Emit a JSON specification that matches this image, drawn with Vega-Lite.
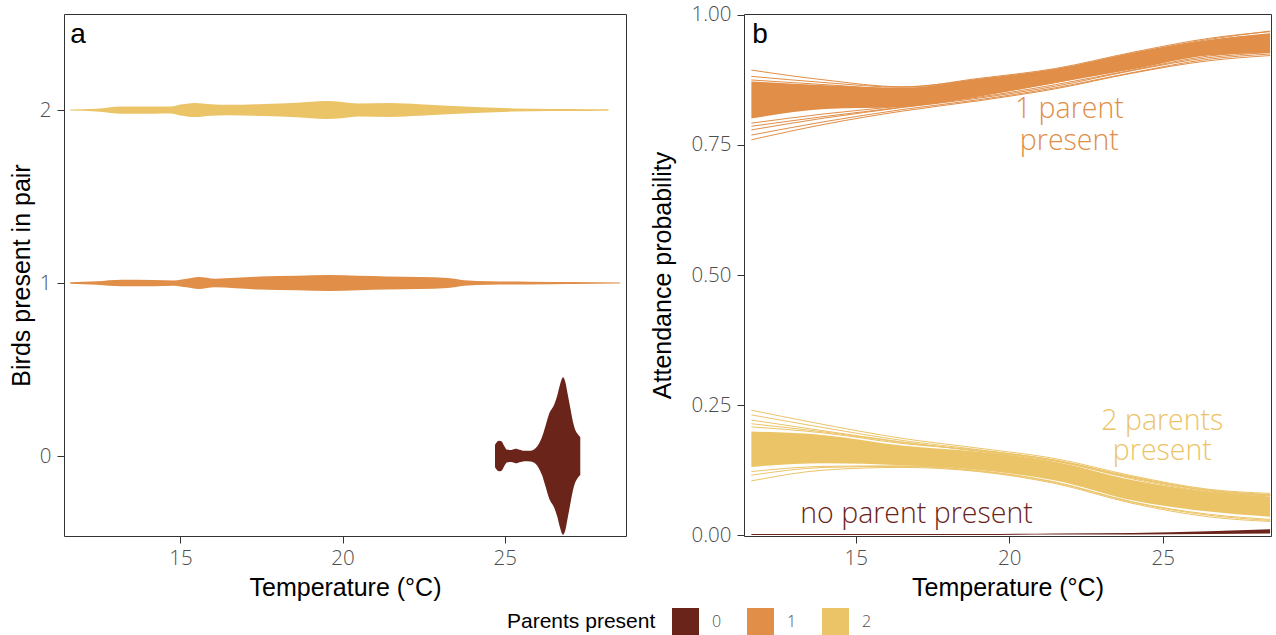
{
  "$schema": "https://vega.github.io/schema/vega-lite/v6.json",
  "padding": {"left": 8, "top": 4, "right": 0, "bottom": 0},
  "bounds": "flush",
  "spacing": 118,
  "background": "white",
  "config": {
    "font": "Liberation Sans",
    "view": {"stroke": "#333333", "strokeWidth": 1},
    "axis": {
      "domain": false, "grid": false, "tickColor": "#333333", "tickSize": 7, "tickWidth": 1,
      "labelFont": "Open Sans", "labelFontWeight": 300, "labelFontSize": 20.5, "labelColor": "#4d4d4d", "labelPadding": 6,
      "titleFont": "Liberation Sans", "titleFontSize": 25, "titleFontWeight": "normal", "titleColor": "#000000", "titlePadding": 12
    },
    "axisX": {"titlePadding": 7, "labelPadding": 5},
    "legend": {
      "titleFont": "Liberation Sans", "titleFontSize": 21, "titleFontWeight": "normal", "titleColor": "#000000",
      "labelFont": "Open Sans", "labelFontWeight": 300, "labelFontSize": 16, "labelColor": "#4d4d4d",
      "symbolType": "square", "symbolSize": 729, "symbolStrokeWidth": 0, "symbolOpacity": 1,
      "labelOffset": 13, "columnPadding": 25, "titlePadding": 16, "padding": 0
    }
  },
  "resolve": {"scale": {"color": "shared"}, "legend": {"color": "shared"}},
  "datasets": {
    "violins": [
      {"pp": "2", "temp": 11.60, "val": 1.997, "val2": 2.003},
      {"pp": "2", "temp": 12.42, "val": 1.992, "val2": 2.008},
      {"pp": "2", "temp": 13.17, "val": 1.979, "val2": 2.021},
      {"pp": "2", "temp": 14.18, "val": 1.979, "val2": 2.021},
      {"pp": "2", "temp": 14.69, "val": 1.980, "val2": 2.020},
      {"pp": "2", "temp": 15.06, "val": 1.967, "val2": 2.033},
      {"pp": "2", "temp": 15.44, "val": 1.959, "val2": 2.041},
      {"pp": "2", "temp": 15.95, "val": 1.967, "val2": 2.033},
      {"pp": "2", "temp": 16.45, "val": 1.970, "val2": 2.030},
      {"pp": "2", "temp": 17.58, "val": 1.965, "val2": 2.035},
      {"pp": "2", "temp": 18.59, "val": 1.958, "val2": 2.042},
      {"pp": "2", "temp": 19.47, "val": 1.948, "val2": 2.052},
      {"pp": "2", "temp": 19.98, "val": 1.953, "val2": 2.047},
      {"pp": "2", "temp": 20.48, "val": 1.962, "val2": 2.038},
      {"pp": "2", "temp": 21.49, "val": 1.960, "val2": 2.040},
      {"pp": "2", "temp": 22.37, "val": 1.967, "val2": 2.033},
      {"pp": "2", "temp": 23.25, "val": 1.975, "val2": 2.025},
      {"pp": "2", "temp": 24.26, "val": 1.984, "val2": 2.016},
      {"pp": "2", "temp": 25.27, "val": 1.991, "val2": 2.009},
      {"pp": "2", "temp": 26.40, "val": 1.994, "val2": 2.006},
      {"pp": "2", "temp": 27.54, "val": 1.995, "val2": 2.005},
      {"pp": "2", "temp": 28.20, "val": 1.996, "val2": 2.004},
      {"pp": "1", "temp": 11.60, "val": 0.996, "val2": 1.004},
      {"pp": "1", "temp": 12.42, "val": 0.990, "val2": 1.010},
      {"pp": "1", "temp": 13.17, "val": 0.981, "val2": 1.019},
      {"pp": "1", "temp": 14.18, "val": 0.982, "val2": 1.018},
      {"pp": "1", "temp": 14.81, "val": 0.985, "val2": 1.015},
      {"pp": "1", "temp": 15.19, "val": 0.975, "val2": 1.025},
      {"pp": "1", "temp": 15.56, "val": 0.965, "val2": 1.035},
      {"pp": "1", "temp": 16.07, "val": 0.975, "val2": 1.025},
      {"pp": "1", "temp": 16.70, "val": 0.970, "val2": 1.030},
      {"pp": "1", "temp": 17.45, "val": 0.962, "val2": 1.038},
      {"pp": "1", "temp": 18.59, "val": 0.958, "val2": 1.042},
      {"pp": "1", "temp": 19.60, "val": 0.954, "val2": 1.046},
      {"pp": "1", "temp": 20.48, "val": 0.958, "val2": 1.042},
      {"pp": "1", "temp": 21.36, "val": 0.962, "val2": 1.038},
      {"pp": "1", "temp": 22.37, "val": 0.965, "val2": 1.035},
      {"pp": "1", "temp": 23.25, "val": 0.971, "val2": 1.029},
      {"pp": "1", "temp": 23.75, "val": 0.984, "val2": 1.016},
      {"pp": "1", "temp": 24.51, "val": 0.990, "val2": 1.010},
      {"pp": "1", "temp": 25.77, "val": 0.992, "val2": 1.008},
      {"pp": "1", "temp": 27.03, "val": 0.994, "val2": 1.006},
      {"pp": "1", "temp": 28.56, "val": 0.997, "val2": 1.003},
      {"pp": "0", "temp": 24.70, "val": -0.065, "val2": 0.065},
      {"pp": "0", "temp": 24.75, "val": -0.078, "val2": 0.078},
      {"pp": "0", "temp": 24.82, "val": -0.088, "val2": 0.088},
      {"pp": "0", "temp": 24.90, "val": -0.085, "val2": 0.085},
      {"pp": "0", "temp": 24.98, "val": -0.060, "val2": 0.060},
      {"pp": "0", "temp": 25.08, "val": -0.036, "val2": 0.036},
      {"pp": "0", "temp": 25.20, "val": -0.035, "val2": 0.035},
      {"pp": "0", "temp": 25.34, "val": -0.042, "val2": 0.042},
      {"pp": "0", "temp": 25.46, "val": -0.036, "val2": 0.036},
      {"pp": "0", "temp": 25.60, "val": -0.030, "val2": 0.030},
      {"pp": "0", "temp": 25.80, "val": -0.031, "val2": 0.031},
      {"pp": "0", "temp": 25.95, "val": -0.045, "val2": 0.045},
      {"pp": "0", "temp": 26.05, "val": -0.070, "val2": 0.070},
      {"pp": "0", "temp": 26.15, "val": -0.110, "val2": 0.110},
      {"pp": "0", "temp": 26.25, "val": -0.170, "val2": 0.170},
      {"pp": "0", "temp": 26.37, "val": -0.245, "val2": 0.245},
      {"pp": "0", "temp": 26.53, "val": -0.300, "val2": 0.300},
      {"pp": "0", "temp": 26.62, "val": -0.350, "val2": 0.350},
      {"pp": "0", "temp": 26.70, "val": -0.410, "val2": 0.410},
      {"pp": "0", "temp": 26.80, "val": -0.455, "val2": 0.455},
      {"pp": "0", "temp": 26.88, "val": -0.420, "val2": 0.420},
      {"pp": "0", "temp": 26.94, "val": -0.360, "val2": 0.360},
      {"pp": "0", "temp": 27.02, "val": -0.280, "val2": 0.280},
      {"pp": "0", "temp": 27.09, "val": -0.210, "val2": 0.210},
      {"pp": "0", "temp": 27.16, "val": -0.160, "val2": 0.160},
      {"pp": "0", "temp": 27.24, "val": -0.130, "val2": 0.130},
      {"pp": "0", "temp": 27.33, "val": -0.110, "val2": 0.110}
    ],
    "bands": [
      {"pp": "0", "temp": 11.6, "val": 0.000, "val2": 0.002},
      {"pp": "0", "temp": 14.0, "val": 0.000, "val2": 0.002},
      {"pp": "0", "temp": 16.5, "val": 0.000, "val2": 0.002},
      {"pp": "0", "temp": 19.0, "val": 0.000, "val2": 0.002},
      {"pp": "0", "temp": 21.5, "val": 0.001, "val2": 0.003},
      {"pp": "0", "temp": 24.0, "val": 0.001, "val2": 0.004},
      {"pp": "0", "temp": 26.5, "val": 0.002, "val2": 0.007},
      {"pp": "0", "temp": 28.5, "val": 0.003, "val2": 0.011},
      {"pp": "1", "temp": 11.6, "val": 0.801, "val2": 0.872},
      {"pp": "1", "temp": 14.0, "val": 0.819, "val2": 0.865},
      {"pp": "1", "temp": 16.5, "val": 0.823, "val2": 0.860},
      {"pp": "1", "temp": 19.0, "val": 0.843, "val2": 0.877},
      {"pp": "1", "temp": 21.5, "val": 0.869, "val2": 0.896},
      {"pp": "1", "temp": 24.0, "val": 0.895, "val2": 0.927},
      {"pp": "1", "temp": 26.5, "val": 0.922, "val2": 0.952},
      {"pp": "1", "temp": 28.5, "val": 0.927, "val2": 0.965},
      {"pp": "2", "temp": 11.6, "val": 0.131, "val2": 0.199},
      {"pp": "2", "temp": 14.0, "val": 0.138, "val2": 0.192},
      {"pp": "2", "temp": 16.5, "val": 0.134, "val2": 0.172},
      {"pp": "2", "temp": 19.0, "val": 0.125, "val2": 0.160},
      {"pp": "2", "temp": 21.5, "val": 0.105, "val2": 0.141},
      {"pp": "2", "temp": 24.0, "val": 0.067, "val2": 0.106},
      {"pp": "2", "temp": 26.5, "val": 0.045, "val2": 0.083},
      {"pp": "2", "temp": 28.5, "val": 0.035, "val2": 0.074}
    ],
    "draws": [
      {"pp": "1", "draw": "o1", "temp": 11.6, "val": 0.894}, {"pp": "1", "draw": "o1", "temp": 14.0, "val": 0.875}, {"pp": "1", "draw": "o1", "temp": 16.5, "val": 0.862}, {"pp": "1", "draw": "o1", "temp": 19.0, "val": 0.876}, {"pp": "1", "draw": "o1", "temp": 21.5, "val": 0.895}, {"pp": "1", "draw": "o1", "temp": 24.0, "val": 0.926}, {"pp": "1", "draw": "o1", "temp": 26.5, "val": 0.953}, {"pp": "1", "draw": "o1", "temp": 28.5, "val": 0.969},
      {"pp": "1", "draw": "o2", "temp": 11.6, "val": 0.882}, {"pp": "1", "draw": "o2", "temp": 14.0, "val": 0.870}, {"pp": "1", "draw": "o2", "temp": 16.5, "val": 0.861}, {"pp": "1", "draw": "o2", "temp": 19.0, "val": 0.878}, {"pp": "1", "draw": "o2", "temp": 21.5, "val": 0.897}, {"pp": "1", "draw": "o2", "temp": 24.0, "val": 0.928}, {"pp": "1", "draw": "o2", "temp": 26.5, "val": 0.955}, {"pp": "1", "draw": "o2", "temp": 28.5, "val": 0.968},
      {"pp": "1", "draw": "o3", "temp": 11.6, "val": 0.760}, {"pp": "1", "draw": "o3", "temp": 14.0, "val": 0.790}, {"pp": "1", "draw": "o3", "temp": 16.5, "val": 0.815}, {"pp": "1", "draw": "o3", "temp": 19.0, "val": 0.835}, {"pp": "1", "draw": "o3", "temp": 21.5, "val": 0.858}, {"pp": "1", "draw": "o3", "temp": 24.0, "val": 0.888}, {"pp": "1", "draw": "o3", "temp": 26.5, "val": 0.912}, {"pp": "1", "draw": "o3", "temp": 28.5, "val": 0.922},
      {"pp": "1", "draw": "o4", "temp": 11.6, "val": 0.769}, {"pp": "1", "draw": "o4", "temp": 14.0, "val": 0.795}, {"pp": "1", "draw": "o4", "temp": 16.5, "val": 0.818}, {"pp": "1", "draw": "o4", "temp": 19.0, "val": 0.837}, {"pp": "1", "draw": "o4", "temp": 21.5, "val": 0.860}, {"pp": "1", "draw": "o4", "temp": 24.0, "val": 0.889}, {"pp": "1", "draw": "o4", "temp": 26.5, "val": 0.915}, {"pp": "1", "draw": "o4", "temp": 28.5, "val": 0.925},
      {"pp": "1", "draw": "o5", "temp": 11.6, "val": 0.779}, {"pp": "1", "draw": "o5", "temp": 14.0, "val": 0.802}, {"pp": "1", "draw": "o5", "temp": 16.5, "val": 0.822}, {"pp": "1", "draw": "o5", "temp": 19.0, "val": 0.840}, {"pp": "1", "draw": "o5", "temp": 21.5, "val": 0.863}, {"pp": "1", "draw": "o5", "temp": 24.0, "val": 0.893}, {"pp": "1", "draw": "o5", "temp": 26.5, "val": 0.918}, {"pp": "1", "draw": "o5", "temp": 28.5, "val": 0.928},
      {"pp": "1", "draw": "o6", "temp": 11.6, "val": 0.792}, {"pp": "1", "draw": "o6", "temp": 14.0, "val": 0.810}, {"pp": "1", "draw": "o6", "temp": 16.5, "val": 0.825}, {"pp": "1", "draw": "o6", "temp": 19.0, "val": 0.842}, {"pp": "1", "draw": "o6", "temp": 21.5, "val": 0.866}, {"pp": "1", "draw": "o6", "temp": 24.0, "val": 0.894}, {"pp": "1", "draw": "o6", "temp": 26.5, "val": 0.921}, {"pp": "1", "draw": "o6", "temp": 28.5, "val": 0.930},
      {"pp": "1", "draw": "o7", "temp": 11.6, "val": 0.786}, {"pp": "1", "draw": "o7", "temp": 14.0, "val": 0.805}, {"pp": "1", "draw": "o7", "temp": 16.5, "val": 0.823}, {"pp": "1", "draw": "o7", "temp": 19.0, "val": 0.845}, {"pp": "1", "draw": "o7", "temp": 21.5, "val": 0.870}, {"pp": "1", "draw": "o7", "temp": 24.0, "val": 0.900}, {"pp": "1", "draw": "o7", "temp": 26.5, "val": 0.925}, {"pp": "1", "draw": "o7", "temp": 28.5, "val": 0.935},
      {"pp": "1", "draw": "o8", "temp": 11.6, "val": 0.875}, {"pp": "1", "draw": "o8", "temp": 14.0, "val": 0.866}, {"pp": "1", "draw": "o8", "temp": 16.5, "val": 0.858}, {"pp": "1", "draw": "o8", "temp": 19.0, "val": 0.873}, {"pp": "1", "draw": "o8", "temp": 21.5, "val": 0.892}, {"pp": "1", "draw": "o8", "temp": 24.0, "val": 0.922}, {"pp": "1", "draw": "o8", "temp": 26.5, "val": 0.950}, {"pp": "1", "draw": "o8", "temp": 28.5, "val": 0.963},
      {"pp": "2", "draw": "y1", "temp": 11.6, "val": 0.240}, {"pp": "2", "draw": "y1", "temp": 14.0, "val": 0.212}, {"pp": "2", "draw": "y1", "temp": 16.5, "val": 0.186}, {"pp": "2", "draw": "y1", "temp": 19.0, "val": 0.167}, {"pp": "2", "draw": "y1", "temp": 21.5, "val": 0.147}, {"pp": "2", "draw": "y1", "temp": 24.0, "val": 0.114}, {"pp": "2", "draw": "y1", "temp": 26.5, "val": 0.088}, {"pp": "2", "draw": "y1", "temp": 28.5, "val": 0.080},
      {"pp": "2", "draw": "y2", "temp": 11.6, "val": 0.231}, {"pp": "2", "draw": "y2", "temp": 14.0, "val": 0.206}, {"pp": "2", "draw": "y2", "temp": 16.5, "val": 0.182}, {"pp": "2", "draw": "y2", "temp": 19.0, "val": 0.164}, {"pp": "2", "draw": "y2", "temp": 21.5, "val": 0.144}, {"pp": "2", "draw": "y2", "temp": 24.0, "val": 0.112}, {"pp": "2", "draw": "y2", "temp": 26.5, "val": 0.086}, {"pp": "2", "draw": "y2", "temp": 28.5, "val": 0.078},
      {"pp": "2", "draw": "y3", "temp": 11.6, "val": 0.221}, {"pp": "2", "draw": "y3", "temp": 14.0, "val": 0.200}, {"pp": "2", "draw": "y3", "temp": 16.5, "val": 0.179}, {"pp": "2", "draw": "y3", "temp": 19.0, "val": 0.161}, {"pp": "2", "draw": "y3", "temp": 21.5, "val": 0.142}, {"pp": "2", "draw": "y3", "temp": 24.0, "val": 0.110}, {"pp": "2", "draw": "y3", "temp": 26.5, "val": 0.085}, {"pp": "2", "draw": "y3", "temp": 28.5, "val": 0.076},
      {"pp": "2", "draw": "y4", "temp": 11.6, "val": 0.208}, {"pp": "2", "draw": "y4", "temp": 14.0, "val": 0.196}, {"pp": "2", "draw": "y4", "temp": 16.5, "val": 0.176}, {"pp": "2", "draw": "y4", "temp": 19.0, "val": 0.163}, {"pp": "2", "draw": "y4", "temp": 21.5, "val": 0.143}, {"pp": "2", "draw": "y4", "temp": 24.0, "val": 0.108}, {"pp": "2", "draw": "y4", "temp": 26.5, "val": 0.083}, {"pp": "2", "draw": "y4", "temp": 28.5, "val": 0.075},
      {"pp": "2", "draw": "y5", "temp": 11.6, "val": 0.122}, {"pp": "2", "draw": "y5", "temp": 14.0, "val": 0.132}, {"pp": "2", "draw": "y5", "temp": 16.5, "val": 0.133}, {"pp": "2", "draw": "y5", "temp": 19.0, "val": 0.124}, {"pp": "2", "draw": "y5", "temp": 21.5, "val": 0.102}, {"pp": "2", "draw": "y5", "temp": 24.0, "val": 0.064}, {"pp": "2", "draw": "y5", "temp": 26.5, "val": 0.040}, {"pp": "2", "draw": "y5", "temp": 28.5, "val": 0.030},
      {"pp": "2", "draw": "y6", "temp": 11.6, "val": 0.104}, {"pp": "2", "draw": "y6", "temp": 14.0, "val": 0.125}, {"pp": "2", "draw": "y6", "temp": 16.5, "val": 0.130}, {"pp": "2", "draw": "y6", "temp": 19.0, "val": 0.122}, {"pp": "2", "draw": "y6", "temp": 21.5, "val": 0.099}, {"pp": "2", "draw": "y6", "temp": 24.0, "val": 0.061}, {"pp": "2", "draw": "y6", "temp": 26.5, "val": 0.035}, {"pp": "2", "draw": "y6", "temp": 28.5, "val": 0.026},
      {"pp": "2", "draw": "y7", "temp": 11.6, "val": 0.115}, {"pp": "2", "draw": "y7", "temp": 14.0, "val": 0.130}, {"pp": "2", "draw": "y7", "temp": 16.5, "val": 0.132}, {"pp": "2", "draw": "y7", "temp": 19.0, "val": 0.123}, {"pp": "2", "draw": "y7", "temp": 21.5, "val": 0.101}, {"pp": "2", "draw": "y7", "temp": 24.0, "val": 0.063}, {"pp": "2", "draw": "y7", "temp": 26.5, "val": 0.038}, {"pp": "2", "draw": "y7", "temp": 28.5, "val": 0.028},
      {"pp": "2", "draw": "y8", "temp": 11.6, "val": 0.214}, {"pp": "2", "draw": "y8", "temp": 14.0, "val": 0.198}, {"pp": "2", "draw": "y8", "temp": 16.5, "val": 0.178}, {"pp": "2", "draw": "y8", "temp": 19.0, "val": 0.162}, {"pp": "2", "draw": "y8", "temp": 21.5, "val": 0.144}, {"pp": "2", "draw": "y8", "temp": 24.0, "val": 0.111}, {"pp": "2", "draw": "y8", "temp": 26.5, "val": 0.086}, {"pp": "2", "draw": "y8", "temp": 28.5, "val": 0.077}
    ]
  },
  "hconcat": [
    {
      "width": 562,
      "height": 522,
      "encoding": {
        "x": {"field": "temp", "type": "quantitative", "scale": {"domain": [11.41, 28.74], "nice": false, "zero": false}, "axis": {"values": [15, 20, 25], "title": "Temperature (°C)"}},
        "y": {"field": "val", "type": "quantitative", "stack": null, "scale": {"domain": [-0.462, 2.555], "nice": false, "zero": false}, "axis": {"values": [0, 1, 2], "format": "d", "title": "Birds present in pair", "titlePadding": 5}}
      },
      "layer": [
        {
          "data": {"name": "violins"},
          "mark": {"type": "area", "interpolate": "monotone", "opacity": 1},
          "encoding": {
            "y2": {"field": "val2"},
            "color": {
              "field": "pp", "type": "nominal",
              "scale": {"domain": ["0", "1", "2"], "range": ["#6B241A", "#E08E48", "#ECC468"]},
              "legend": {"title": "Parents present", "orient": "none", "legendX": 443, "legendY": 594, "direction": "horizontal", "titleOrient": "left"}
            }
          }
        },
        {
          "data": {"values": [{"label": "a", "temp": 11.6, "val": 2.389}]},
          "mark": {"type": "text", "align": "left", "baseline": "alphabetic", "fontSize": 28, "font": "Liberation Sans", "color": "#000000"},
          "encoding": {"text": {"field": "label"}}
        }
      ]
    },
    {
      "width": 527,
      "height": 522,
      "encoding": {
        "x": {"field": "temp", "type": "quantitative", "scale": {"domain": [11.36, 28.53], "nice": false, "zero": false}, "axis": {"values": [15, 20, 25], "title": "Temperature (°C)"}},
        "y": {"field": "val", "type": "quantitative", "stack": null, "scale": {"domain": [-0.0019, 1.0019], "nice": false, "zero": false}, "axis": {"values": [0, 0.25, 0.5, 0.75, 1], "format": ".2f", "title": "Attendance probability", "titlePadding": 16}}
      },
      "layer": [
        {
          "data": {"name": "bands"},
          "mark": {"type": "area", "interpolate": "monotone", "opacity": 1},
          "encoding": {
            "y2": {"field": "val2"},
            "color": {"field": "pp", "type": "nominal", "scale": {"domain": ["0", "1", "2"], "range": ["#6B241A", "#E08E48", "#ECC468"]}, "legend": null}
          }
        },
        {
          "data": {"name": "draws"},
          "mark": {"type": "line", "interpolate": "monotone", "strokeWidth": 1},
          "encoding": {
            "detail": {"field": "draw"},
            "color": {"field": "pp", "type": "nominal", "scale": {"domain": ["0", "1", "2"], "range": ["#6B241A", "#E08E48", "#ECC468"]}, "legend": null}
          }
        },
        {
          "data": {"values": [{"label": "1 parent", "temp": 21.96, "val": 0.8013}, {"label": "present", "temp": 21.96, "val": 0.740}]},
          "mark": {"type": "text", "align": "center", "baseline": "alphabetic", "fontSize": 28.5, "font": "Open Sans", "fontWeight": 300, "color": "#E08E48"},
          "encoding": {"text": {"field": "label"}}
        },
        {
          "data": {"values": [{"label": "2 parents", "temp": 24.99, "val": 0.202}, {"label": "present", "temp": 24.99, "val": 0.144}]},
          "mark": {"type": "text", "align": "center", "baseline": "alphabetic", "fontSize": 28.5, "font": "Open Sans", "fontWeight": 300, "color": "#ECC468"},
          "encoding": {"text": {"field": "label"}}
        },
        {
          "data": {"values": [{"label": "no parent present", "temp": 16.98, "val": 0.0224}]},
          "mark": {"type": "text", "align": "center", "baseline": "alphabetic", "fontSize": 28.5, "font": "Open Sans", "fontWeight": 300, "color": "#6B241A"},
          "encoding": {"text": {"field": "label"}}
        },
        {
          "data": {"values": [{"label": "b", "temp": 11.63, "val": 0.9467}]},
          "mark": {"type": "text", "align": "left", "baseline": "alphabetic", "fontSize": 28, "font": "Liberation Sans", "color": "#000000"},
          "encoding": {"text": {"field": "label"}}
        }
      ]
    }
  ]
}
